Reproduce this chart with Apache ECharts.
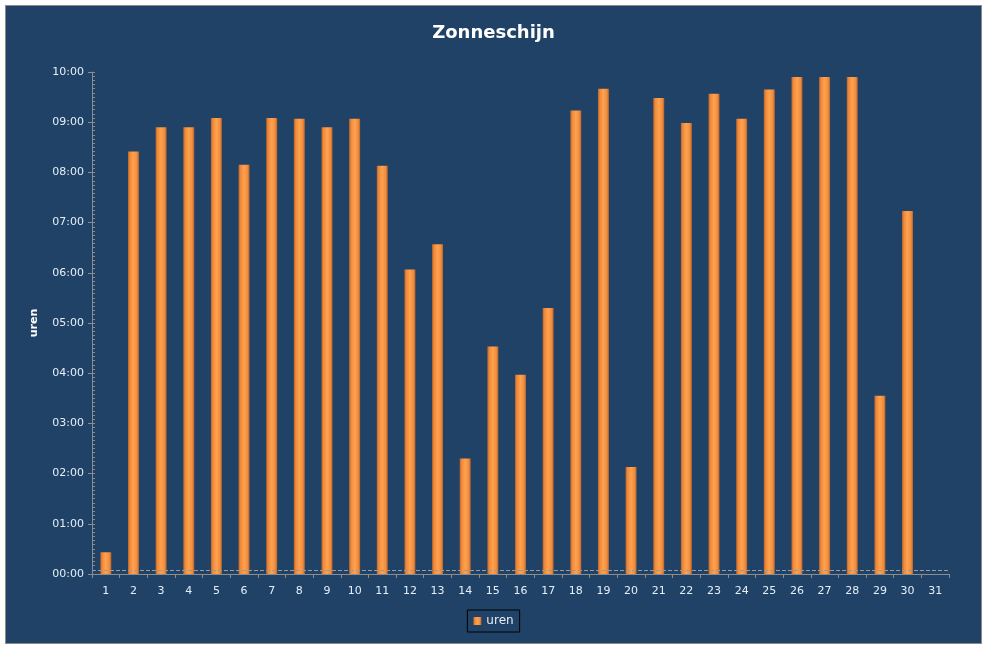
<!DOCTYPE html>
<html>
<head>
<meta charset="utf-8">
<script src="https://cdn.jsdelivr.net/npm/echarts@6/dist/echarts.min.js"></script>
<style>
  html, body { margin: 0; padding: 0; background: #ffffff; }
  #frame { position: absolute; left: 5px; top: 5px; width: 975px; height: 637px; background: #1F4266; border: 1px solid #8a8a8a; }
  #chart { position: absolute; left: 0; top: 0; width: 987px; height: 648px; }
</style>
</head>
<body>
<div id="frame"></div>
<div id="chart"></div>
<script>
// Days of the month
const days = ['1','2','3','4','5','6','7','8','9','10','11','12','13','14','15','16','17','18','19','20','21','22','23','24','25','26','27','28','29','30','31'];
// Sunshine duration per day, in minutes
const urenMinutes = [26, 505, 534, 534, 545, 489, 545, 544, 534, 544, 488, 364, 394, 138, 272, 238, 318, 554, 580, 128, 569, 539, 574, 544, 579, 594, 594, 594, 213, 434, null];
// Y axis range / tick spacing, in minutes
const yMax = 600;
const yStep = 60;
const yMinorStep = 5;

function fmt(v) {
  const h = Math.floor(v / 60);
  const m = Math.round(v - h * 60);
  return String(h).padStart(2, '0') + ':' + String(m).padStart(2, '0');
}

const chart = echarts.init(document.getElementById('chart'));
const labelColor = '#E6EEF8';
const axisGrey = '#8C8C8C';

chart.setOption({
  backgroundColor: 'transparent',
  animation: false,
  textStyle: { fontFamily: 'DejaVu Sans' },
  title: {
    text: 'Zonneschijn',
    left: 'center',
    top: 19,
    textStyle: { color: '#ffffff', fontSize: 18, fontWeight: 'bold', fontFamily: 'DejaVu Sans' }
  },
  legend: {
    data: ['uren'],
    left: 'center',
    top: 610,
    icon: 'rect',
    itemWidth: 8,
    itemHeight: 8,
    itemGap: 5,
    padding: [5, 6, 5, 6],
    borderColor: '#000000',
    borderWidth: 1,
    textStyle: { color: labelColor, fontSize: 12, fontFamily: 'DejaVu Sans' }
  },
  grid: { left: 92, right: 38, top: 72, bottom: 74 },
  xAxis: {
    type: 'category',
    data: days,
    boundaryGap: true,
    axisLine: { lineStyle: { color: axisGrey, width: 1 } },
    axisTick: { show: true, length: 4, lineStyle: { color: axisGrey } },
    axisLabel: { color: labelColor, fontSize: 11, margin: 12 }
  },
  yAxis: [
    {
      type: 'value',
      min: 0,
      max: yMax,
      interval: yStep,
      position: 'left',
      name: 'uren',
      nameLocation: 'middle',
      nameGap: 52,
      nameTextStyle: { color: '#ffffff', fontSize: 11, fontWeight: 'bold' },
      axisLine: { show: true, lineStyle: { color: axisGrey } },
      axisTick: { show: true, length: 4, lineStyle: { color: axisGrey } },
      axisLabel: { color: labelColor, fontSize: 11, margin: 8, formatter: fmt },
      splitLine: { show: false }
    },
    {
      type: 'value',
      min: 0,
      max: yMax,
      interval: yMinorStep,
      position: 'left',
      axisLine: { show: false },
      axisTick: { show: true, inside: true, length: 3, lineStyle: { color: axisGrey } },
      axisLabel: { show: false },
      splitLine: { show: false }
    }
  ],
  series: [
    {
      name: 'uren',
      type: 'bar',
      data: urenMinutes,
      yAxisIndex: 0,
      barWidth: 11,
      itemStyle: {
        color: new echarts.graphic.LinearGradient(0, 0, 1, 0, [
          { offset: 0, color: '#B9642A' },
          { offset: 0.18, color: '#EE8A3C' },
          { offset: 0.5, color: '#FFA24E' },
          { offset: 0.82, color: '#F08C3E' },
          { offset: 1, color: '#B5612A' }
        ])
      },
      markLine: {
        silent: true,
        symbol: 'none',
        label: { show: false },
        lineStyle: { color: '#9a9a9a', type: 'dashed', width: 1 },
        data: [{ yAxis: 5 }]
      }
    }
  ]
});
</script>
</body>
</html>
